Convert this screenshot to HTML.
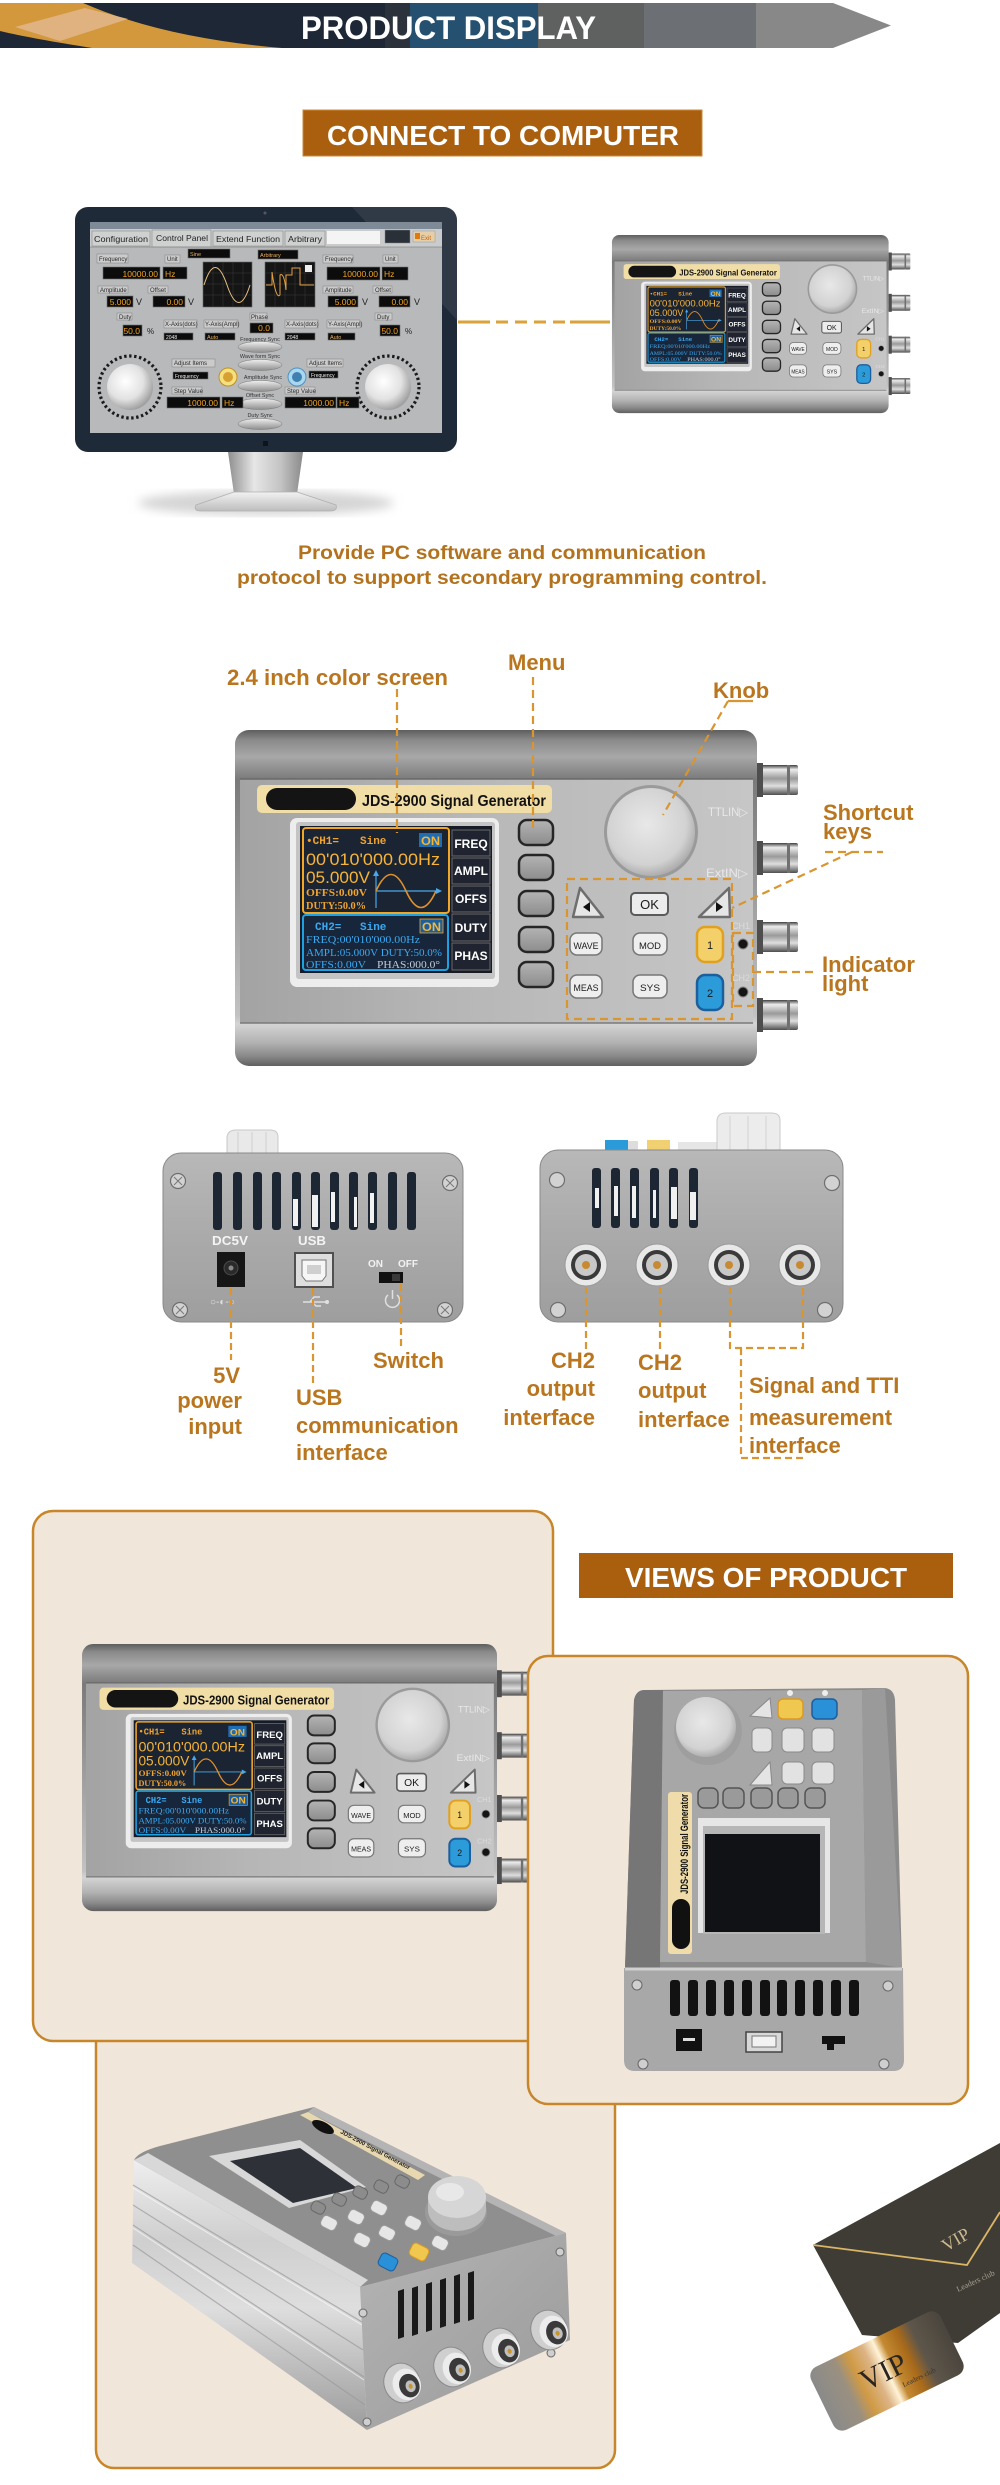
<!DOCTYPE html>
<html><head><meta charset="utf-8"><title>Product Display</title>
<style>
html,body{margin:0;padding:0;background:#fff;}
svg{display:block;}
.lb{fill:#cbcbcb;stroke:#8a8a8a;stroke-width:.6}
.bk{fill:#0c0c0c;stroke:#707070;stroke-width:.6}
.t6{font-size:6px;fill:#2a2a2a}
.o8{font-size:8.5px;fill:#f3a21e}
.o5{font-size:5.5px;fill:#e9b060}
.w5{font-size:5px;fill:#eee}
</style></head>
<body>
<svg xmlns="http://www.w3.org/2000/svg" width="1000" height="2485" viewBox="0 0 1000 2485" font-family="'Liberation Sans', Arial, sans-serif">
<defs>
 <clipPath id="cpBan"><polygon points="0,3 833,3 891,25.5 833,48 0,48"/></clipPath>
 <linearGradient id="gBody" x1="0" y1="0" x2="0" y2="1">
  <stop offset="0" stop-color="#5e5e5e"/><stop offset=".03" stop-color="#8a8a8a"/><stop offset=".08" stop-color="#a8a8a8"/><stop offset=".12" stop-color="#8c8c8c"/><stop offset=".148" stop-color="#7a7a7a"/><stop offset=".85" stop-color="#c2c2c2"/><stop offset=".875" stop-color="#d4d4d4"/><stop offset=".93" stop-color="#b2b2b2"/><stop offset=".97" stop-color="#8a8a8a"/><stop offset="1" stop-color="#606060"/>
 </linearGradient>
 <linearGradient id="gPanel" x1="0" y1="0" x2="1" y2="0">
  <stop offset="0" stop-color="#a3a3a3"/><stop offset=".4" stop-color="#b6b6b6"/><stop offset="1" stop-color="#c6c6c6"/>
 </linearGradient>
 <linearGradient id="gBnc" x1="0" y1="0" x2="0" y2="1">
  <stop offset="0" stop-color="#3e3e3e"/><stop offset=".15" stop-color="#ececec"/><stop offset=".45" stop-color="#9a9a9a"/><stop offset=".7" stop-color="#dedede"/><stop offset="1" stop-color="#4e4e4e"/>
 </linearGradient>
 <radialGradient id="gKnob" cx=".45" cy=".42" r=".6">
  <stop offset="0" stop-color="#e8e8e8"/><stop offset=".75" stop-color="#d2d2d2"/><stop offset="1" stop-color="#a9a9a9"/>
 </radialGradient>
 <linearGradient id="gMenu" x1="0" y1="0" x2="0" y2="1">
  <stop offset="0" stop-color="#b4b4b4"/><stop offset="1" stop-color="#8c8c8c"/>
 </linearGradient>
 <linearGradient id="gBack" x1="0" y1="0" x2="0" y2="1">
  <stop offset="0" stop-color="#b8b8b8"/><stop offset=".5" stop-color="#aaaaaa"/><stop offset="1" stop-color="#9e9e9e"/>
 </linearGradient>
 <linearGradient id="gStand" x1="0" y1="0" x2="1" y2="0">
  <stop offset="0" stop-color="#8e8e8e"/><stop offset=".35" stop-color="#e6e6e6"/><stop offset=".7" stop-color="#c4c4c4"/><stop offset="1" stop-color="#8a8a8a"/>
 </linearGradient>
 <linearGradient id="gBase" x1="0" y1="0" x2="0" y2="1">
  <stop offset="0" stop-color="#f2f2f2"/><stop offset="1" stop-color="#bdbdbd"/>
 </linearGradient>
 <linearGradient id="gSync" x1="0" y1="0" x2="0" y2="1">
  <stop offset="0" stop-color="#f0f0f0"/><stop offset="1" stop-color="#8e8e8e"/>
 </linearGradient>
 <radialGradient id="gGuiKnob" cx=".4" cy=".38" r=".65">
  <stop offset="0" stop-color="#ffffff"/><stop offset=".6" stop-color="#e2e2e2"/><stop offset="1" stop-color="#9c9c9c"/>
 </radialGradient>
 <linearGradient id="gIsoSide" x1="0" y1="0" x2="0" y2="1">
  <stop offset="0" stop-color="#eeeeee"/><stop offset=".3" stop-color="#cfcfcf"/><stop offset=".55" stop-color="#dedede"/><stop offset=".8" stop-color="#b8b8b8"/><stop offset="1" stop-color="#9c9c9c"/>
 </linearGradient>
 <linearGradient id="gIsoFront" x1="0" y1="0" x2="1" y2="1">
  <stop offset="0" stop-color="#b4b4b4"/><stop offset="1" stop-color="#9a9a9a"/>
 </linearGradient>
 <linearGradient id="gVip" x1="0" y1="0" x2="1" y2="0">
  <stop offset="0" stop-color="#8a8a8a"/><stop offset=".2" stop-color="#9a9080"/><stop offset=".3" stop-color="#d09a45"/><stop offset=".42" stop-color="#dcb485"/><stop offset=".5" stop-color="#fff3d8"/><stop offset=".56" stop-color="#c48a32"/><stop offset=".68" stop-color="#a96a1a"/><stop offset=".78" stop-color="#5e564a"/><stop offset="1" stop-color="#4a453d"/>
 </linearGradient>
 <filter id="blur"><feGaussianBlur stdDeviation="5"/></filter>

 <g id="dev">
  <rect x="750" y="765" width="48" height="30" rx="2" fill="url(#gBnc)"/>
  <rect x="750" y="843" width="48" height="30" rx="2" fill="url(#gBnc)"/>
  <rect x="750" y="922" width="48" height="30" rx="2" fill="url(#gBnc)"/>
  <rect x="750" y="1000" width="48" height="30" rx="2" fill="url(#gBnc)"/>
  <g fill="#4e4e4e">
   <rect x="757" y="763" width="6" height="34"/><rect x="757" y="841" width="6" height="34"/><rect x="757" y="920" width="6" height="34"/><rect x="757" y="998" width="6" height="34"/>
  </g>
  <g fill="#707070">
   <rect x="787" y="765" width="3" height="30"/><rect x="787" y="843" width="3" height="30"/><rect x="787" y="922" width="3" height="30"/><rect x="787" y="1000" width="3" height="30"/>
  </g>
  <rect x="235" y="730" width="522" height="336" rx="14" fill="url(#gBody)"/>
  <rect x="240" y="779" width="513" height="244" fill="url(#gPanel)"/>
  <line x1="240" y1="779" x2="753" y2="779" stroke="#6a6a6a" stroke-width="1.5"/>
  <line x1="240" y1="1023" x2="753" y2="1023" stroke="#7a7a7a" stroke-width="1.5"/>
  <rect x="257" y="785" width="295" height="28" rx="5" fill="#f1dea6"/>
  <rect x="266" y="788" width="90" height="22" rx="11" fill="#141414"/>
  <rect x="290" y="818" width="209" height="169" rx="7" fill="#ededed"/>
  <rect x="296" y="822" width="199" height="157" rx="3" fill="#c4c4c4"/>
  <rect x="300" y="826" width="192" height="147" fill="#161b25"/>
  <rect x="303" y="828" width="146" height="85" rx="3" fill="#1b2433" stroke="#f0a626" stroke-width="2"/>
  <rect x="419" y="833" width="23" height="14" fill="#1f6db3"/>
  <line x1="376" y1="872" x2="376" y2="908" stroke="#4aa8e8" stroke-width="1.2"/>
  <line x1="376" y1="891" x2="440" y2="891" stroke="#4aa8e8" stroke-width="1.2"/>
  <polygon points="436,888 442,891 436,894" fill="#4aa8e8"/>
  <polygon points="373,876 376,870 379,876" fill="#4aa8e8"/>
  <path d="M376,891 Q391,858 406,891 T436,891" fill="none" stroke="#e0902c" stroke-width="1.6"/>
  <rect x="303" y="915" width="145" height="55" rx="3" fill="#17263a" stroke="#1fa0e0" stroke-width="2"/>
  <rect x="420" y="919" width="23" height="14" fill="#1d5f9e" stroke="#f0a626" stroke-width=".8"/>
  <g fill="#1f2430" stroke="#6a6a6a" stroke-width="1">
   <rect x="452" y="830" width="38" height="26"/><rect x="452" y="858" width="38" height="26"/><rect x="452" y="886" width="38" height="26"/><rect x="452" y="914" width="38" height="27"/><rect x="452" y="943" width="38" height="27"/>
  </g>
  <g fill="url(#gMenu)" stroke="#262626" stroke-width="2.5">
   <rect x="519" y="820" width="34" height="25" rx="8"/><rect x="519" y="855" width="34" height="25" rx="8"/><rect x="519" y="891" width="34" height="25" rx="8"/><rect x="519" y="927" width="34" height="25" rx="8"/><rect x="519" y="962" width="34" height="25" rx="8"/>
  </g>
  <circle cx="651" cy="832" r="47" fill="#9a9a9a"/>
  <circle cx="651" cy="832" r="44" fill="url(#gKnob)"/>
  <polygon points="580,888 573,917 603,917" fill="#e6e6e6" stroke="#6e6e6e" stroke-width="2.5" stroke-linejoin="round"/>
  <polygon points="583,907 590,902 590,912" fill="#111"/>
  <polygon points="729,888 730,917 699,917" fill="#e6e6e6" stroke="#6e6e6e" stroke-width="2.5" stroke-linejoin="round"/>
  <polygon points="723,907 716,902 716,912" fill="#111"/>
  <rect x="631" y="893" width="37" height="22" rx="4" fill="#ececec" stroke="#5a5a5a" stroke-width="2"/>
  <g fill="#eeeeee" stroke="#777" stroke-width="1.5">
   <rect x="570" y="933" width="32" height="22" rx="7"/><rect x="633" y="933" width="34" height="22" rx="7"/><rect x="570" y="975" width="32" height="23" rx="7"/><rect x="633" y="975" width="34" height="23" rx="7"/>
  </g>
  <rect x="697" y="927" width="26" height="35" rx="8" fill="#f3d06a" stroke="#e0a020" stroke-width="2.5"/>
  <rect x="697" y="975" width="26" height="35" rx="8" fill="#2b9bd9" stroke="#1d5e9c" stroke-width="2.5"/>
  <circle cx="743" cy="944" r="5" fill="#151515" stroke="#888"/>
  <circle cx="743" cy="992" r="5" fill="#151515" stroke="#888"/>
 </g>
</defs>

<rect x="0" y="0" width="1000" height="2485" fill="#ffffff"/>

<!-- HEADER BANNER -->
<g clip-path="url(#cpBan)">
 <rect x="0" y="0" width="410" height="50" fill="#1d2736"/>
 <rect x="385" y="0" width="25" height="50" fill="#2b323b"/>
 <rect x="410" y="0" width="128" height="50" fill="#25506f"/>
 <rect x="538" y="0" width="106" height="50" fill="#5f6160"/>
 <rect x="644" y="0" width="112" height="50" fill="#6c6f73"/>
 <rect x="756" y="0" width="140" height="50" fill="#878887"/>
 <path d="M0,3 L83,3 C140,28 210,42 282,48 L92,48 C55,42 25,37 0,31 Z" fill="#d3973c"/>
 <polygon points="15,27 85,8 128,19 60,41" fill="#dfb27f"/>
</g>
<text x="301" y="39" font-size="32" font-weight="bold" fill="#ffffff" textLength="295" lengthAdjust="spacingAndGlyphs">PRODUCT DISPLAY</text>

<!-- CONNECT TO COMPUTER -->
<rect x="303" y="110" width="399" height="46" fill="#aa5f0e" stroke="#c98a3a" stroke-width="1"/>
<text x="503" y="145" font-size="28" font-weight="bold" fill="#ffffff" text-anchor="middle" textLength="352" lengthAdjust="spacingAndGlyphs">CONNECT TO COMPUTER</text>

<!-- MONITOR -->
<ellipse cx="266" cy="503" rx="128" ry="12" fill="#d4d4d4" filter="url(#blur)"/>
<path d="M228,452 L303,452 L297,494 L234,494 Z" fill="url(#gStand)"/>
<path d="M234,492 L297,492 L336,505 Q338,511 330,511 L201,511 Q193,511 196,505 Z" fill="url(#gBase)" stroke="#b0b0b0" stroke-width=".8"/>
<rect x="75" y="207" width="382" height="245" rx="13" fill="#1f2a38"/>
<path d="M352,207 L444,207 Q457,207 457,220 L457,320 Z" fill="#ffffff" opacity=".08"/>
<circle cx="265" cy="213" r="1.5" fill="#556"/>
<rect x="263" y="441" width="5" height="5" fill="#0e141c"/>
<rect x="90" y="222" width="352" height="211" fill="#b7b9ba"/>
<rect x="90" y="222" width="352" height="7" fill="#7e8b96"/>
<rect x="90" y="229" width="352" height="18" fill="#c9cbcc"/>
<g fill="#cfd0d0" stroke="#8a8a8a" stroke-width=".6">
 <rect x="92" y="231" width="58" height="15"/><rect x="152" y="230" width="59" height="17"/><rect x="213" y="231" width="70" height="15"/><rect x="285" y="231" width="40" height="15"/>
</g>
<g font-size="8.5" fill="#222">
 <text x="94" y="242" textLength="54" lengthAdjust="spacingAndGlyphs">Configuration</text>
 <text x="156" y="241" textLength="52" lengthAdjust="spacingAndGlyphs">Control Panel</text>
 <text x="216" y="242" textLength="64" lengthAdjust="spacingAndGlyphs">Extend Function</text>
 <text x="288" y="242" textLength="34" lengthAdjust="spacingAndGlyphs">Arbitrary</text>
</g>
<rect x="327" y="231" width="53" height="13" fill="#f4f4f4"/>
<rect x="385" y="230" width="25" height="13" fill="#2a3038" stroke="#888" stroke-width=".5"/>
<rect x="413" y="231" width="22" height="11" fill="#e6cfa6" stroke="#999" stroke-width=".5"/>
<rect x="415" y="233" width="5" height="6" fill="#e07a10"/>
<text x="421" y="240" font-size="6" fill="#c06010">Exit</text>
<line x1="90" y1="247" x2="442" y2="247" stroke="#888" stroke-width=".8"/>

<!-- GUI left block -->
<rect class="lb" x="97" y="254" width="31" height="9"/><text class="t6" x="99" y="261">Frequency</text>
<rect class="lb" x="165" y="255" width="15" height="8"/><text class="t6" x="167" y="261">Unit</text>
<rect class="bk" x="103" y="267" width="57" height="12"/><text class="o8" x="158" y="277" text-anchor="end">10000.00</text>
<rect class="bk" x="163" y="267" width="24" height="12"/><text class="o8" x="165" y="277">Hz</text>
<rect class="bk" x="188" y="249" width="42" height="9"/><text class="o5" x="190" y="256">Sine</text>
<rect x="203" y="262" width="49" height="45" fill="#151515" stroke="#666" stroke-width=".6"/>
<path d="M213,262V307M223,262V307M233,262V307M243,262V307M203,273H252M203,284H252M203,295H252" stroke="#3a3a3a" stroke-width=".5"/>
<path d="M204,285 Q215,250 227,285 T250,285" fill="none" stroke="#e8c080" stroke-width="1"/>
<rect class="bk" x="258" y="250" width="40" height="9"/><text class="o5" x="260" y="257">Arbitrary</text>
<rect x="265" y="262" width="50" height="45" fill="#151515" stroke="#666" stroke-width=".6"/>
<path d="M275,262V307M285,262V307M295,262V307M305,262V307M265,273H315M265,284H315M265,295H315" stroke="#3a3a3a" stroke-width=".5"/>
<path d="M266,285 H272 V272 Q276,300 280,295 V275 Q284,272 286,290 V275 H292 V268 H300 V285 H314" stroke="#e0a040" fill="none" stroke-width="1"/>
<rect x="305" y="265" width="7" height="7" fill="#eee"/>
<rect class="lb" x="323" y="255" width="30" height="8"/><text class="t6" x="325" y="261">Frequency</text>
<rect class="lb" x="383" y="255" width="15" height="8"/><text class="t6" x="385" y="261">Unit</text>
<rect class="bk" x="327" y="267" width="53" height="13"/><text class="o8" x="378" y="277" text-anchor="end">10000.00</text>
<rect class="bk" x="382" y="267" width="26" height="13"/><text class="o8" x="384" y="277">Hz</text>

<rect class="lb" x="98" y="286" width="30" height="7"/><text class="t6" x="100" y="292">Amplitude</text>
<rect class="bk" x="107" y="296" width="26" height="11"/><text class="o8" x="131" y="305" text-anchor="end">5.000</text>
<text x="136" y="305" font-size="9" fill="#222">V</text>
<rect class="lb" x="148" y="286" width="20" height="7"/><text class="t6" x="150" y="292">Offset</text>
<rect class="bk" x="153" y="296" width="32" height="11"/><text class="o8" x="183" y="305" text-anchor="end">0.00</text>
<text x="188" y="305" font-size="9" fill="#222">V</text>
<rect class="lb" x="323" y="286" width="30" height="7"/><text class="t6" x="325" y="292">Amplitude</text>
<rect class="bk" x="328" y="296" width="30" height="11"/><text class="o8" x="356" y="305" text-anchor="end">5.000</text>
<text x="362" y="305" font-size="9" fill="#222">V</text>
<rect class="lb" x="373" y="286" width="19" height="7"/><text class="t6" x="375" y="292">Offset</text>
<rect class="bk" x="379" y="296" width="31" height="11"/><text class="o8" x="408" y="305" text-anchor="end">0.00</text>
<text x="414" y="305" font-size="9" fill="#222">V</text>

<rect class="lb" x="117" y="313" width="15" height="7"/><text class="t6" x="119" y="319">Duty</text>
<rect class="bk" x="123" y="325" width="19" height="11"/><text class="o8" x="140" y="334" text-anchor="end">50.0</text>
<text x="147" y="334" font-size="8" fill="#222">%</text>
<rect class="lb" x="375" y="313" width="17" height="7"/><text class="t6" x="377" y="319">Duty</text>
<rect class="bk" x="380" y="325" width="20" height="11"/><text class="o8" x="398" y="334" text-anchor="end">50.0</text>
<text x="405" y="334" font-size="8" fill="#222">%</text>

<rect class="lb" x="164" y="320" width="33" height="8"/><text class="t6" x="165" y="326">X-Axis(dots)</text>
<rect class="bk" x="164" y="333" width="29" height="7"/><text class="w5" x="166" y="339">2048</text>
<rect class="lb" x="204" y="320" width="34" height="8"/><text class="t6" x="205" y="326">Y-Axis(Ampl)</text>
<rect class="bk" x="205" y="333" width="30" height="7"/><text class="o5" x="207" y="339">Auto</text>
<rect class="lb" x="250" y="313" width="17" height="7"/><text class="t6" x="251" y="319">Phase</text>
<rect class="bk" x="250" y="323" width="23" height="10"/><text class="o8" x="270" y="331" text-anchor="end">0.0</text>
<rect class="lb" x="285" y="320" width="33" height="8"/><text class="t6" x="286" y="326">X-Axis(dots)</text>
<rect class="bk" x="285" y="333" width="30" height="7"/><text class="w5" x="287" y="339">2048</text>
<rect class="lb" x="327" y="320" width="33" height="8"/><text class="t6" x="328" y="326">Y-Axis(Ampl)</text>
<rect class="bk" x="328" y="333" width="27" height="7"/><text class="o5" x="330" y="339">Auto</text>

<g font-size="5.5" fill="#333" text-anchor="middle">
 <text x="260" y="341">Frequency Sync</text>
 <text x="260" y="358">Wave form Sync</text>
 <text x="263" y="379">Amplitude Sync</text>
 <text x="260" y="397">Offset Sync</text>
 <text x="260" y="417">Duty Sync</text>
</g>
<g fill="url(#gSync)" stroke="#777" stroke-width=".5">
 <ellipse cx="260" cy="347" rx="22" ry="5.5"/><ellipse cx="260" cy="365" rx="22" ry="5.5"/><ellipse cx="260" cy="386" rx="22" ry="5.5"/><ellipse cx="260" cy="404" rx="22" ry="5.5"/><ellipse cx="260" cy="424" rx="22" ry="5.5"/>
</g>
<circle cx="130" cy="387" r="31" fill="none" stroke="#1a1a1a" stroke-width="3.2" stroke-dasharray="2.4 2.6"/>
<circle cx="130" cy="387" r="23" fill="url(#gGuiKnob)"/>
<circle cx="388" cy="387" r="31" fill="none" stroke="#1a1a1a" stroke-width="3.2" stroke-dasharray="2.4 2.6"/>
<circle cx="388" cy="387" r="23" fill="url(#gGuiKnob)"/>
<rect class="lb" x="172" y="359" width="43" height="8"/><text class="t6" x="174" y="365">Adjust Items</text>
<rect class="bk" x="173" y="372" width="35" height="7"/><text class="w5" x="175" y="378">Frequency</text>
<circle cx="228" cy="377" r="9" fill="#f4e080" stroke="#c09020" stroke-width="1"/><circle cx="228" cy="377" r="5" fill="#d8a030"/>
<rect class="lb" x="307" y="359" width="36" height="8"/><text class="t6" x="309" y="365">Adjust Items</text>
<rect class="bk" x="309" y="371" width="29" height="7"/><text class="w5" x="311" y="377">Frequency</text>
<circle cx="297" cy="377" r="9" fill="#a8d8f0" stroke="#5090c0" stroke-width="1"/><circle cx="297" cy="377" r="5" fill="#4080b0"/>
<rect class="lb" x="172" y="387" width="30" height="7"/><text class="t6" x="174" y="393">Step Value</text>
<rect class="bk" x="167" y="397" width="53" height="11"/><text class="o8" x="218" y="406" text-anchor="end">1000.00</text>
<rect class="bk" x="222" y="397" width="21" height="11"/><text class="o8" x="224" y="406">Hz</text>
<rect class="lb" x="285" y="387" width="30" height="7"/><text class="t6" x="287" y="393">Step Value</text>
<rect class="bk" x="285" y="397" width="51" height="11"/><text class="o8" x="334" y="406" text-anchor="end">1000.00</text>
<rect class="bk" x="337" y="397" width="22" height="11"/><text class="o8" x="339" y="406">Hz</text>

<!-- connector -->
<line x1="458" y1="322" x2="490" y2="322" stroke="#d9a23a" stroke-width="3"/>
<line x1="496" y1="322" x2="566" y2="322" stroke="#d9a23a" stroke-width="3" stroke-dasharray="12 7"/>
<line x1="570" y1="322" x2="610" y2="322" stroke="#d9a23a" stroke-width="3"/>

<!-- SMALL DEVICE (section 1) -->
<g transform="translate(487.4,-151.9) scale(0.53)">
 <use href="#dev"/>
 <g font-weight="bold">
  <text x="362" y="806" font-size="16" fill="#121212" textLength="184" lengthAdjust="spacingAndGlyphs">JDS-2900 Signal Generator</text>
  <g font-family="'Liberation Mono','DejaVu Sans Mono',monospace" font-size="11" fill="#f0a430"><text x="306" y="844">•CH1=</text><text x="360" y="844">Sine</text></g>
  <text x="421" y="845" font-size="12" fill="#f6b534" textLength="19" lengthAdjust="spacingAndGlyphs">ON</text>
  <g fill="#f7b436" font-weight="normal" font-size="17">
   <text x="306" y="865" textLength="134" lengthAdjust="spacingAndGlyphs">00'010'000.00Hz</text>
   <text x="306" y="883" textLength="64" lengthAdjust="spacingAndGlyphs">05.000V</text>
  </g>
  <g font-family="'Liberation Serif',serif" font-size="10" fill="#f0a430">
   <text x="306" y="896" textLength="61" lengthAdjust="spacingAndGlyphs">OFFS:0.00V</text>
   <text x="306" y="909" textLength="60" lengthAdjust="spacingAndGlyphs">DUTY:50.0%</text>
  </g>
  <g font-family="'Liberation Mono',monospace" font-size="11" fill="#3aa9f2"><text x="315" y="930">CH2=</text><text x="360" y="930">Sine</text></g>
  <text x="422" y="931" font-size="12" fill="#f6b534" textLength="19" lengthAdjust="spacingAndGlyphs">ON</text>
  <g font-family="'Liberation Serif',serif" font-size="10" fill="#3aa9f2" font-weight="normal">
   <text x="306" y="943" textLength="114" lengthAdjust="spacingAndGlyphs">FREQ:00'010'000.00Hz</text>
   <text x="306" y="956" textLength="136" lengthAdjust="spacingAndGlyphs">AMPL:05.000V DUTY:50.0%</text>
   <text x="306" y="968" textLength="60" lengthAdjust="spacingAndGlyphs">OFFS:0.00V</text>
   <text x="377" y="968" textLength="63" lengthAdjust="spacingAndGlyphs" fill="#c4ccd6">PHAS:000.0°</text>
  </g>
  <g font-size="12" fill="#ffffff" text-anchor="middle">
   <text x="471" y="848">FREQ</text><text x="471" y="875">AMPL</text><text x="471" y="903">OFFS</text><text x="471" y="932">DUTY</text><text x="471" y="960">PHAS</text>
  </g>
  <g font-weight="normal" fill="#1a1a1a" text-anchor="middle">
   <text x="649.5" y="909" font-size="13">OK</text>
   <text x="586" y="949" font-size="9.5" textLength="25" lengthAdjust="spacingAndGlyphs">WAVE</text>
   <text x="650" y="949" font-size="9.5" textLength="22" lengthAdjust="spacingAndGlyphs">MOD</text>
   <text x="586" y="991" font-size="9.5" textLength="25" lengthAdjust="spacingAndGlyphs">MEAS</text>
   <text x="650" y="991" font-size="9.5" textLength="20" lengthAdjust="spacingAndGlyphs">SYS</text>
   <text x="710" y="949" font-size="11">1</text>
   <text x="710" y="997" font-size="11">2</text>
  </g>
  <g font-weight="normal" font-size="12" fill="#e8e8e8">
   <text x="708" y="816" textLength="40" lengthAdjust="spacingAndGlyphs">TTLIN▷</text>
   <text x="706" y="877" textLength="42" lengthAdjust="spacingAndGlyphs">ExtIN▷</text>
   <text x="732" y="929" font-size="9" fill="#dcdcdc">CH1</text>
   <text x="732" y="981" font-size="9" fill="#dcdcdc">CH2</text>
  </g>
 </g>
</g>

<!-- paragraph -->
<g font-size="19" font-weight="bold" fill="#b3721d" text-anchor="middle">
 <text x="502" y="559" textLength="408" lengthAdjust="spacingAndGlyphs">Provide PC software and communication</text>
 <text x="502" y="584" textLength="530" lengthAdjust="spacingAndGlyphs">protocol to support secondary programming control.</text>
</g>

<!-- FRONT DEVICE (section 2) -->
<g>
 <use href="#dev"/>
 <g font-weight="bold">
  <text x="362" y="806" font-size="16" fill="#121212" textLength="184" lengthAdjust="spacingAndGlyphs">JDS-2900 Signal Generator</text>
  <g font-family="'Liberation Mono','DejaVu Sans Mono',monospace" font-size="11" fill="#f0a430"><text x="306" y="844">•CH1=</text><text x="360" y="844">Sine</text></g>
  <text x="421" y="845" font-size="12" fill="#f6b534" textLength="19" lengthAdjust="spacingAndGlyphs">ON</text>
  <g fill="#f7b436" font-weight="normal" font-size="17">
   <text x="306" y="865" textLength="134" lengthAdjust="spacingAndGlyphs">00'010'000.00Hz</text>
   <text x="306" y="883" textLength="64" lengthAdjust="spacingAndGlyphs">05.000V</text>
  </g>
  <g font-family="'Liberation Serif',serif" font-size="10" fill="#f0a430">
   <text x="306" y="896" textLength="61" lengthAdjust="spacingAndGlyphs">OFFS:0.00V</text>
   <text x="306" y="909" textLength="60" lengthAdjust="spacingAndGlyphs">DUTY:50.0%</text>
  </g>
  <g font-family="'Liberation Mono',monospace" font-size="11" fill="#3aa9f2"><text x="315" y="930">CH2=</text><text x="360" y="930">Sine</text></g>
  <text x="422" y="931" font-size="12" fill="#f6b534" textLength="19" lengthAdjust="spacingAndGlyphs">ON</text>
  <g font-family="'Liberation Serif',serif" font-size="10" fill="#3aa9f2" font-weight="normal">
   <text x="306" y="943" textLength="114" lengthAdjust="spacingAndGlyphs">FREQ:00'010'000.00Hz</text>
   <text x="306" y="956" textLength="136" lengthAdjust="spacingAndGlyphs">AMPL:05.000V DUTY:50.0%</text>
   <text x="306" y="968" textLength="60" lengthAdjust="spacingAndGlyphs">OFFS:0.00V</text>
   <text x="377" y="968" textLength="63" lengthAdjust="spacingAndGlyphs" fill="#c4ccd6">PHAS:000.0°</text>
  </g>
  <g font-size="12" fill="#ffffff" text-anchor="middle">
   <text x="471" y="848">FREQ</text><text x="471" y="875">AMPL</text><text x="471" y="903">OFFS</text><text x="471" y="932">DUTY</text><text x="471" y="960">PHAS</text>
  </g>
  <g font-weight="normal" fill="#1a1a1a" text-anchor="middle">
   <text x="649.5" y="909" font-size="13">OK</text>
   <text x="586" y="949" font-size="9.5" textLength="25" lengthAdjust="spacingAndGlyphs">WAVE</text>
   <text x="650" y="949" font-size="9.5" textLength="22" lengthAdjust="spacingAndGlyphs">MOD</text>
   <text x="586" y="991" font-size="9.5" textLength="25" lengthAdjust="spacingAndGlyphs">MEAS</text>
   <text x="650" y="991" font-size="9.5" textLength="20" lengthAdjust="spacingAndGlyphs">SYS</text>
   <text x="710" y="949" font-size="11">1</text>
   <text x="710" y="997" font-size="11">2</text>
  </g>
  <g font-weight="normal" font-size="12" fill="#e8e8e8">
   <text x="708" y="816" textLength="40" lengthAdjust="spacingAndGlyphs">TTLIN▷</text>
   <text x="706" y="877" textLength="42" lengthAdjust="spacingAndGlyphs">ExtIN▷</text>
   <text x="732" y="929" font-size="9" fill="#dcdcdc">CH1</text>
   <text x="732" y="981" font-size="9" fill="#dcdcdc">CH2</text>
  </g>
 </g>
</g>

<!-- front labels -->
<g fill="#b9761f" font-size="22" font-weight="bold">
 <text x="227" y="685" textLength="221" lengthAdjust="spacingAndGlyphs">2.4 inch color screen</text>
 <text x="508" y="670">Menu</text>
 <text x="713" y="698">Knob</text>
 <text x="823" y="820">Shortcut</text>
 <text x="823" y="839">keys</text>
 <text x="822" y="972">Indicator</text>
 <text x="822" y="991">light</text>
</g>
<g stroke="#d9952f" stroke-width="2.2" fill="none">
 <line x1="728" y1="701" x2="753" y2="701"/>
 <g stroke-dasharray="8 5">
  <line x1="397" y1="689" x2="397" y2="833"/>
  <line x1="533" y1="677" x2="533" y2="828"/>
  <line x1="728" y1="701" x2="663" y2="815"/>
  <line x1="825" y1="852" x2="883" y2="852"/>
  <line x1="852" y1="852" x2="732" y2="908"/>
  <rect x="567" y="879" width="165" height="140"/>
  <rect x="733" y="933" width="20" height="73"/>
  <line x1="753" y1="972" x2="815" y2="972"/>
 </g>
</g>

<!-- BACK DEVICE 1 -->
<path d="M227,1156 L227,1137 Q228,1130 236,1130 L270,1130 Q278,1130 278,1137 L278,1156 Z" fill="#e9e9e9" stroke="#c8c8c8"/>
<g stroke="#d0d0d0" stroke-width="1"><line x1="238" y1="1132" x2="238" y2="1153"/><line x1="252" y1="1132" x2="252" y2="1153"/><line x1="266" y1="1132" x2="266" y2="1153"/></g>
<rect x="163" y="1153" width="300" height="169" rx="18" fill="url(#gBack)" stroke="#8a8a8a"/>
<g fill="#1d2733">
 <rect x="213" y="1172" width="9" height="58" rx="3"/><rect x="233" y="1172" width="9" height="58" rx="3"/><rect x="253" y="1172" width="9" height="58" rx="3"/><rect x="272" y="1172" width="9" height="58" rx="3"/><rect x="292" y="1172" width="9" height="58" rx="3"/><rect x="311" y="1172" width="9" height="58" rx="3"/><rect x="330" y="1172" width="9" height="58" rx="3"/><rect x="349" y="1172" width="9" height="58" rx="3"/><rect x="368" y="1172" width="9" height="58" rx="3"/><rect x="388" y="1172" width="9" height="58" rx="3"/><rect x="407" y="1172" width="9" height="58" rx="3"/>
</g>
<g fill="#f2f2f2">
 <rect x="293" y="1199" width="5" height="27"/><rect x="312" y="1195" width="6" height="32"/><rect x="331" y="1192" width="4" height="30"/><rect x="354" y="1197" width="3" height="30"/><rect x="370" y="1193" width="4" height="30"/>
</g>
<g fill="#d2d2d2" stroke="#6e6e6e" stroke-width="1.2">
 <circle cx="178" cy="1181" r="7.5"/><circle cx="450" cy="1183" r="7.5"/><circle cx="180" cy="1310" r="7.5"/><circle cx="445" cy="1310" r="7.5"/>
</g>
<g stroke="#777" stroke-width="1">
 <path d="M174,1177 L182,1185 M182,1177 L174,1185"/><path d="M446,1179 L454,1187 M454,1179 L446,1187"/><path d="M176,1306 L184,1314 M184,1306 L176,1314"/><path d="M441,1306 L449,1314 M449,1306 L441,1314"/>
</g>
<text x="212" y="1245" font-size="13" font-weight="bold" fill="#f4f4f4" textLength="36" lengthAdjust="spacingAndGlyphs">DC5V</text>
<rect x="217" y="1252" width="28" height="35" fill="#161616"/>
<circle cx="231" cy="1268" r="7" fill="#2a2a2a" stroke="#4a4a4a"/>
<circle cx="231" cy="1268" r="2.5" fill="#888"/>
<text x="210" y="1305" font-size="10" fill="#e0e0e0">○-◐-○</text>
<text x="298" y="1245" font-size="13" font-weight="bold" fill="#f4f4f4" textLength="28" lengthAdjust="spacingAndGlyphs">USB</text>
<rect x="295" y="1253" width="38" height="34" fill="#dedede" stroke="#505050" stroke-width="2"/>
<path d="M302,1260 L326,1260 L326,1276 L322,1281 L306,1281 L302,1276 Z" fill="#f6f6f6" stroke="#777"/>
<rect x="307" y="1265" width="14" height="9" fill="#cfcfcf"/>
<path d="M303,1302 L326,1302 M310,1302 L314,1297 L320,1297 M312,1302 L316,1306 L321,1306" stroke="#e0e0e0" stroke-width="1.5" fill="none"/>
<circle cx="327" cy="1302" r="2" fill="#e0e0e0"/>
<text x="368" y="1267" font-size="10" font-weight="bold" fill="#f2f2f2">ON</text>
<text x="398" y="1267" font-size="10" font-weight="bold" fill="#f2f2f2">OFF</text>
<rect x="379" y="1272" width="24" height="11" fill="#111"/>
<rect x="392" y="1274" width="8" height="7" fill="#3a3a3a"/>
<path d="M388,1295 A7,7 0 1 0 397,1295" fill="none" stroke="#e0e0e0" stroke-width="1.5"/>
<line x1="392.5" y1="1290" x2="392.5" y2="1299" stroke="#e0e0e0" stroke-width="1.5"/>

<!-- BACK DEVICE 2 -->
<rect x="605" y="1140" width="23" height="12" fill="#2a9ad8"/>
<rect x="628" y="1141" width="10" height="10" fill="#dddddd"/>
<rect x="647" y="1140" width="23" height="12" fill="#f0d070"/>
<rect x="678" y="1142" width="40" height="10" fill="#e6e6e6"/>
<path d="M717,1153 L717,1120 Q718,1113 726,1113 L771,1113 Q780,1113 780,1120 L780,1153 Z" fill="#ececec" stroke="#cacaca"/>
<g stroke="#d2d2d2"><line x1="730" y1="1116" x2="730" y2="1150"/><line x1="748" y1="1116" x2="748" y2="1150"/><line x1="766" y1="1116" x2="766" y2="1150"/></g>
<rect x="540" y="1150" width="303" height="172" rx="18" fill="url(#gBack)" stroke="#8a8a8a"/>
<g fill="#1d2733">
 <rect x="592" y="1168" width="9" height="60" rx="3"/><rect x="611" y="1168" width="9" height="60" rx="3"/><rect x="630" y="1168" width="9" height="60" rx="3"/><rect x="650" y="1168" width="9" height="60" rx="3"/><rect x="669" y="1168" width="9" height="60" rx="3"/><rect x="689" y="1168" width="9" height="60" rx="3"/>
</g>
<g fill="#f0f0f0">
 <rect x="595" y="1188" width="4" height="20"/><rect x="614" y="1186" width="4" height="30"/><rect x="632" y="1186" width="4" height="32"/><rect x="653" y="1190" width="3" height="28"/><rect x="671" y="1187" width="6" height="32"/><rect x="690" y="1192" width="6" height="28"/>
</g>
<g fill="#d2d2d2" stroke="#6e6e6e" stroke-width="1.2">
 <circle cx="557" cy="1180" r="7.5"/><circle cx="832" cy="1183" r="7.5"/><circle cx="558" cy="1310" r="7.5"/><circle cx="825" cy="1310" r="7.5"/>
</g>
<g>
 <circle cx="586" cy="1265" r="21" fill="#e8e8e8" stroke="#999"/><circle cx="586" cy="1265" r="15" fill="#3a3a3a"/><circle cx="586" cy="1265" r="11" fill="#c8c8c8"/><circle cx="586" cy="1265" r="4" fill="#c88a30"/>
 <circle cx="657" cy="1265" r="21" fill="#e8e8e8" stroke="#999"/><circle cx="657" cy="1265" r="15" fill="#3a3a3a"/><circle cx="657" cy="1265" r="11" fill="#c8c8c8"/><circle cx="657" cy="1265" r="4" fill="#c88a30"/>
 <circle cx="729" cy="1265" r="21" fill="#e8e8e8" stroke="#999"/><circle cx="729" cy="1265" r="15" fill="#3a3a3a"/><circle cx="729" cy="1265" r="11" fill="#c8c8c8"/><circle cx="729" cy="1265" r="4" fill="#c88a30"/>
 <circle cx="800" cy="1265" r="21" fill="#e8e8e8" stroke="#999"/><circle cx="800" cy="1265" r="15" fill="#3a3a3a"/><circle cx="800" cy="1265" r="11" fill="#c8c8c8"/><circle cx="800" cy="1265" r="4" fill="#c88a30"/>
</g>

<!-- back labels -->
<g stroke="#d9952f" stroke-width="2.2" stroke-dasharray="7 4" fill="none">
 <line x1="231" y1="1288" x2="231" y2="1360"/>
 <line x1="313" y1="1288" x2="313" y2="1385"/>
 <line x1="401" y1="1284" x2="401" y2="1348"/>
 <line x1="586" y1="1287" x2="586" y2="1350"/>
 <line x1="660" y1="1287" x2="660" y2="1350"/>
 <polyline points="730,1287 730,1348 803,1348 803,1287"/>
 <polyline points="741,1348 741,1458 803,1458"/>
</g>
<g fill="#b9761f" font-size="22" font-weight="bold">
 <text x="240" y="1383" text-anchor="end">5V</text>
 <text x="242" y="1408" text-anchor="end">power</text>
 <text x="242" y="1434" text-anchor="end">input</text>
 <text x="296" y="1405">USB</text>
 <text x="296" y="1433">communication</text>
 <text x="296" y="1460">interface</text>
 <text x="373" y="1368">Switch</text>
 <text x="595" y="1368" text-anchor="end">CH2</text>
 <text x="595" y="1396" text-anchor="end">output</text>
 <text x="595" y="1425" text-anchor="end">interface</text>
 <text x="638" y="1370">CH2</text>
 <text x="638" y="1398">output</text>
 <text x="638" y="1427">interface</text>
 <text x="749" y="1393">Signal and TTI</text>
 <text x="749" y="1425">measurement</text>
 <text x="749" y="1453">interface</text>
</g>

<!-- VIEWS SECTION BOXES -->
<rect x="96" y="2000" width="519" height="468" rx="18" fill="#f0e6da" stroke="#c8862a" stroke-width="2.5"/>
<rect x="33" y="1511" width="520" height="530" rx="20" fill="#f0e6da" stroke="#c8862a" stroke-width="2.5"/>

<!-- BOX1 DEVICE -->
<g transform="translate(-104.8,1063.6) scale(0.795)">
 <use href="#dev"/>
 <g font-weight="bold">
  <text x="362" y="806" font-size="16" fill="#121212" textLength="184" lengthAdjust="spacingAndGlyphs">JDS-2900 Signal Generator</text>
  <g font-family="'Liberation Mono','DejaVu Sans Mono',monospace" font-size="11" fill="#f0a430"><text x="306" y="844">•CH1=</text><text x="360" y="844">Sine</text></g>
  <text x="421" y="845" font-size="12" fill="#f6b534" textLength="19" lengthAdjust="spacingAndGlyphs">ON</text>
  <g fill="#f7b436" font-weight="normal" font-size="17">
   <text x="306" y="865" textLength="134" lengthAdjust="spacingAndGlyphs">00'010'000.00Hz</text>
   <text x="306" y="883" textLength="64" lengthAdjust="spacingAndGlyphs">05.000V</text>
  </g>
  <g font-family="'Liberation Serif',serif" font-size="10" fill="#f0a430">
   <text x="306" y="896" textLength="61" lengthAdjust="spacingAndGlyphs">OFFS:0.00V</text>
   <text x="306" y="909" textLength="60" lengthAdjust="spacingAndGlyphs">DUTY:50.0%</text>
  </g>
  <g font-family="'Liberation Mono',monospace" font-size="11" fill="#3aa9f2"><text x="315" y="930">CH2=</text><text x="360" y="930">Sine</text></g>
  <text x="422" y="931" font-size="12" fill="#f6b534" textLength="19" lengthAdjust="spacingAndGlyphs">ON</text>
  <g font-family="'Liberation Serif',serif" font-size="10" fill="#3aa9f2" font-weight="normal">
   <text x="306" y="943" textLength="114" lengthAdjust="spacingAndGlyphs">FREQ:00'010'000.00Hz</text>
   <text x="306" y="956" textLength="136" lengthAdjust="spacingAndGlyphs">AMPL:05.000V DUTY:50.0%</text>
   <text x="306" y="968" textLength="60" lengthAdjust="spacingAndGlyphs">OFFS:0.00V</text>
   <text x="377" y="968" textLength="63" lengthAdjust="spacingAndGlyphs" fill="#c4ccd6">PHAS:000.0°</text>
  </g>
  <g font-size="12" fill="#ffffff" text-anchor="middle">
   <text x="471" y="848">FREQ</text><text x="471" y="875">AMPL</text><text x="471" y="903">OFFS</text><text x="471" y="932">DUTY</text><text x="471" y="960">PHAS</text>
  </g>
  <g font-weight="normal" fill="#1a1a1a" text-anchor="middle">
   <text x="649.5" y="909" font-size="13">OK</text>
   <text x="586" y="949" font-size="9.5" textLength="25" lengthAdjust="spacingAndGlyphs">WAVE</text>
   <text x="650" y="949" font-size="9.5" textLength="22" lengthAdjust="spacingAndGlyphs">MOD</text>
   <text x="586" y="991" font-size="9.5" textLength="25" lengthAdjust="spacingAndGlyphs">MEAS</text>
   <text x="650" y="991" font-size="9.5" textLength="20" lengthAdjust="spacingAndGlyphs">SYS</text>
   <text x="710" y="949" font-size="11">1</text>
   <text x="710" y="997" font-size="11">2</text>
  </g>
  <g font-weight="normal" font-size="12" fill="#e8e8e8">
   <text x="708" y="816" textLength="40" lengthAdjust="spacingAndGlyphs">TTLIN▷</text>
   <text x="706" y="877" textLength="42" lengthAdjust="spacingAndGlyphs">ExtIN▷</text>
   <text x="732" y="929" font-size="9" fill="#dcdcdc">CH1</text>
   <text x="732" y="981" font-size="9" fill="#dcdcdc">CH2</text>
  </g>
 </g>
</g>

<!-- VIEWS OF PRODUCT -->
<rect x="579" y="1553" width="374" height="45" fill="#aa5f0e"/>
<text x="766" y="1587" font-size="28" font-weight="bold" fill="#ffffff" text-anchor="middle" textLength="282" lengthAdjust="spacingAndGlyphs">VIEWS OF PRODUCT</text>

<!-- BOX 2 -->
<rect x="528" y="1656" width="440" height="448" rx="20" fill="#f0e6da" stroke="#c8862a" stroke-width="2.5"/>
<g>
 <path d="M645,1690 L885,1688 Q894,1689 895,1700 L902,1968 L625,1968 L634,1700 Q636,1690 645,1690 Z" fill="#8b8b8b"/>
 <path d="M634,1700 Q636,1690 645,1690 L663,1690 L660,1968 L625,1968 Z" fill="#767676"/>
 <polygon points="663,1691 862,1690 866,1962 660,1962" fill="#a7a7a7"/>
 <polygon points="862,1690 885,1688 902,1968 866,1962" fill="#9a9a9a"/>
 <circle cx="708" cy="1731" r="34" fill="#9e9e9e"/>
 <circle cx="706" cy="1727" r="30" fill="url(#gKnob)"/>
 <circle cx="790" cy="1693" r="3" fill="#eee"/><circle cx="825" cy="1693" r="3" fill="#eee"/>
 <polygon points="750,1716 770,1698 772,1718" fill="#e4e4e4" stroke="#888"/>
 <rect x="778" y="1699" width="25" height="20" rx="5" fill="#f0c850" stroke="#d89a20" stroke-width="1.5"/>
 <rect x="812" y="1699" width="25" height="20" rx="5" fill="#2a90d8" stroke="#1d5e9c" stroke-width="1.5"/>
 <g fill="#e2e2e2" stroke="#8a8a8a">
  <rect x="752" y="1728" width="20" height="24" rx="5"/><rect x="782" y="1728" width="22" height="24" rx="5"/><rect x="812" y="1728" width="22" height="24" rx="5"/>
  <rect x="782" y="1762" width="22" height="22" rx="5"/><rect x="812" y="1762" width="22" height="22" rx="5"/>
 </g>
 <polygon points="750,1785 770,1762 772,1785" fill="#e4e4e4" stroke="#888"/>
 <g fill="#9a9a9a" stroke="#555" stroke-width="1.5">
  <rect x="698" y="1788" width="20" height="20" rx="6"/><rect x="723" y="1788" width="21" height="20" rx="6"/><rect x="751" y="1788" width="21" height="20" rx="6"/><rect x="778" y="1788" width="20" height="20" rx="6"/><rect x="805" y="1788" width="20" height="20" rx="6"/>
 </g>
 <rect x="668" y="1792" width="24" height="162" rx="3" fill="#efdcaa"/>
 <rect x="672" y="1899" width="18" height="50" rx="9" fill="#111"/>
 <text transform="translate(688,1894) rotate(-90)" font-size="11" font-weight="bold" fill="#111" textLength="100" lengthAdjust="spacingAndGlyphs">JDS-2900 Signal Generator</text>
 <rect x="698" y="1818" width="132" height="115" fill="#e6e6e6"/>
 <rect x="703" y="1826" width="122" height="108" fill="#b6b6b6"/>
 <rect x="705" y="1834" width="115" height="98" fill="#111216"/>
 <path d="M624,1968 L903,1968 L904,2060 Q904,2071 893,2071 L635,2071 Q624,2071 624,2060 Z" fill="#a8a8a8"/>
 <line x1="625" y1="1969" x2="902" y2="1969" stroke="#d0d0d0" stroke-width="3"/>
 <g fill="#121212">
  <rect x="670" y="1980" width="10" height="36" rx="3"/><rect x="688" y="1980" width="10" height="36" rx="3"/><rect x="706" y="1980" width="10" height="36" rx="3"/><rect x="724" y="1980" width="10" height="36" rx="3"/><rect x="742" y="1980" width="10" height="36" rx="3"/><rect x="760" y="1980" width="10" height="36" rx="3"/><rect x="777" y="1980" width="10" height="36" rx="3"/><rect x="795" y="1980" width="10" height="36" rx="3"/><rect x="813" y="1980" width="10" height="36" rx="3"/><rect x="831" y="1980" width="10" height="36" rx="3"/><rect x="849" y="1980" width="10" height="36" rx="3"/>
 </g>
 <g fill="#cfcfcf" stroke="#666"><circle cx="637" cy="1985" r="5"/><circle cx="888" cy="1986" r="5"/><circle cx="643" cy="2064" r="5"/><circle cx="884" cy="2064" r="5"/></g>
 <rect x="676" y="2029" width="26" height="22" fill="#111"/>
 <rect x="683" y="2038" width="12" height="3" fill="#ddd"/>
 <rect x="746" y="2032" width="36" height="20" fill="#d8d8d8" stroke="#444" stroke-width="1.5"/>
 <rect x="752" y="2036" width="24" height="11" fill="#f2f2f2" stroke="#777"/>
 <rect x="822" y="2036" width="23" height="8" fill="#111"/>
 <rect x="827" y="2040" width="7" height="10" fill="#111"/>
</g>

<!-- BOX 3 ISO DEVICE -->
<g>
 <path d="M134,2160 L360,2287 L367,2430 L132,2263 Z" fill="url(#gIsoSide)"/>
 <g stroke="#9a9a9a" stroke-width="1.2" opacity=".7">
  <line x1="133" y1="2185" x2="362" y2="2322"/><line x1="133" y1="2205" x2="363" y2="2350"/><line x1="133" y1="2225" x2="364" y2="2377"/><line x1="133" y1="2245" x2="365" y2="2405"/>
 </g>
 <g stroke="#ffffff" stroke-width="1" opacity=".6">
  <line x1="133" y1="2188" x2="362" y2="2325"/><line x1="133" y1="2228" x2="364" y2="2380"/>
 </g>
 <path d="M360,2287 L566,2233 L570,2340 L367,2430 Z" fill="url(#gIsoFront)"/>
 <path d="M134,2160 Q138,2152 160,2146 L314,2107 L566,2233 L360,2287 Z" fill="#8f8f8f"/>
 <polygon points="134,2160 360,2287 368,2280 148,2153" fill="#d8d8d8"/>
 <polygon points="314,2107 566,2233 556,2236 308,2112" fill="#b4b4b4"/>
 <polygon points="300,2115 308,2112 425,2175 418,2180" fill="#e8d8b0"/>
 <ellipse cx="323" cy="2127" rx="12" ry="5" transform="rotate(27 323 2127)" fill="#111"/>
 <text transform="translate(340,2133) rotate(28)" font-size="6" font-weight="bold" fill="#222" textLength="78" lengthAdjust="spacingAndGlyphs">JDS-2900 Signal Generator</text>
 <polygon points="209,2156 300,2140 366,2187 289,2208" fill="#d8d8d8"/>
 <polygon points="230,2161 300,2148 357,2188 293,2203" fill="#2e3238"/>
 <g fill="#8c8c8c" stroke="#666">
  <rect x="311" y="2202" width="14" height="11" rx="4" transform="rotate(27 318 2208)"/>
  <rect x="332" y="2194" width="14" height="11" rx="4" transform="rotate(27 339 2200)"/>
  <rect x="353" y="2187" width="14" height="11" rx="4" transform="rotate(27 360 2193)"/>
  <rect x="374" y="2181" width="14" height="11" rx="4" transform="rotate(27 381 2187)"/>
  <rect x="395" y="2176" width="14" height="11" rx="4" transform="rotate(27 402 2182)"/>
 </g>
 <g fill="#e6e6e6" stroke="#999">
  <rect x="321" y="2217" width="16" height="12" rx="4" transform="rotate(27 329 2223)"/>
  <rect x="348" y="2211" width="16" height="12" rx="4" transform="rotate(27 356 2217)"/>
  <rect x="371" y="2202" width="16" height="12" rx="4" transform="rotate(27 379 2208)"/>
  <rect x="405" y="2217" width="16" height="12" rx="4" transform="rotate(27 413 2223)"/>
  <rect x="379" y="2227" width="16" height="12" rx="4" transform="rotate(27 387 2233)"/>
  <rect x="354" y="2234" width="16" height="12" rx="4" transform="rotate(27 362 2240)"/>
  <rect x="432" y="2237" width="16" height="12" rx="4" transform="rotate(27 440 2243)"/>
 </g>
 <rect x="410" y="2245" width="18" height="14" rx="4" transform="rotate(27 419 2252)" fill="#f0c850" stroke="#d89a20"/>
 <rect x="379" y="2255" width="18" height="14" rx="4" transform="rotate(27 388 2262)" fill="#2a90d8" stroke="#1d5e9c"/>
 <ellipse cx="456" cy="2212" rx="31" ry="24" fill="#9a9a9a"/>
 <path d="M428,2198 L428,2210 A29,21 0 0 0 486,2210 L486,2198 Z" fill="#bdbdbd"/>
 <ellipse cx="457" cy="2197" rx="29" ry="21" fill="#d6d6d6"/>
 <ellipse cx="450" cy="2192" rx="14" ry="9" fill="#e8e8e8"/>
 <g fill="#1a1a1a">
  <polygon points="398,2291 404,2289 404,2337 398,2339"/>
  <polygon points="412,2288 418,2286 418,2334 412,2336"/>
  <polygon points="426,2284 432,2282 432,2330 426,2332"/>
  <polygon points="440,2280 446,2278 446,2326 440,2328"/>
  <polygon points="454,2276 460,2274 460,2322 454,2324"/>
  <polygon points="468,2273 474,2271 474,2319 468,2321"/>
 </g>
 <g fill="#cfcfcf" stroke="#666"><circle cx="363" cy="2313" r="4"/><circle cx="367" cy="2422" r="4"/><circle cx="560" cy="2252" r="4"/><circle cx="551" cy="2353" r="4"/></g>
 <g>
  <g transform="translate(402,2383) rotate(-20)"><ellipse rx="18" ry="20" fill="#cfcfcf" stroke="#8a8a8a"/><ellipse cx="4" cy="3" rx="14" ry="16" fill="#ececec"/><ellipse cx="6" cy="5" rx="10" ry="12" fill="#3a3a3a"/><ellipse cx="7" cy="6" rx="5" ry="6" fill="#bfbfbf"/><ellipse cx="7" cy="6" rx="2" ry="2.5" fill="#c8962e"/></g>
  <g transform="translate(452,2367) rotate(-20)"><ellipse rx="18" ry="20" fill="#cfcfcf" stroke="#8a8a8a"/><ellipse cx="4" cy="3" rx="14" ry="16" fill="#ececec"/><ellipse cx="6" cy="5" rx="10" ry="12" fill="#3a3a3a"/><ellipse cx="7" cy="6" rx="5" ry="6" fill="#bfbfbf"/><ellipse cx="7" cy="6" rx="2" ry="2.5" fill="#c8962e"/></g>
  <g transform="translate(501,2348) rotate(-20)"><ellipse rx="18" ry="20" fill="#cfcfcf" stroke="#8a8a8a"/><ellipse cx="4" cy="3" rx="14" ry="16" fill="#ececec"/><ellipse cx="6" cy="5" rx="10" ry="12" fill="#3a3a3a"/><ellipse cx="7" cy="6" rx="5" ry="6" fill="#bfbfbf"/><ellipse cx="7" cy="6" rx="2" ry="2.5" fill="#c8962e"/></g>
  <g transform="translate(549,2330) rotate(-20)"><ellipse rx="18" ry="20" fill="#cfcfcf" stroke="#8a8a8a"/><ellipse cx="4" cy="3" rx="14" ry="16" fill="#ececec"/><ellipse cx="6" cy="5" rx="10" ry="12" fill="#3a3a3a"/><ellipse cx="7" cy="6" rx="5" ry="6" fill="#bfbfbf"/><ellipse cx="7" cy="6" rx="2" ry="2.5" fill="#c8962e"/></g>
 </g>
</g>

<!-- VIP CARD -->
<g>
 <path d="M813,2245 L1000,2143 L1000,2313 L958,2343 L862,2335 Z" fill="#3f3c36"/>
 <polyline points="813,2245 967,2265 1000,2212" fill="none" stroke="#d9b565" stroke-width="1.8"/>
 <text transform="translate(946,2252) rotate(-30)" font-family="'Liberation Serif', serif" font-size="18" fill="#cbb98f">VIP</text>
 <text transform="translate(958,2292) rotate(-25)" font-family="'Liberation Serif', serif" font-size="8" fill="#a8a090">Leaders club</text>
 <g transform="translate(887,2371) rotate(-26)">
  <rect x="-72" y="-35" width="144" height="70" rx="10" fill="url(#gVip)"/>
  <text x="-28" y="9" font-family="'Liberation Serif', serif" font-size="30" fill="#2a2520">VIP</text>
  <text x="8" y="22" font-family="'Liberation Serif', serif" font-size="7" fill="#3a3530">Leaders club</text>
 </g>
</g>
</svg>
</body></html>
